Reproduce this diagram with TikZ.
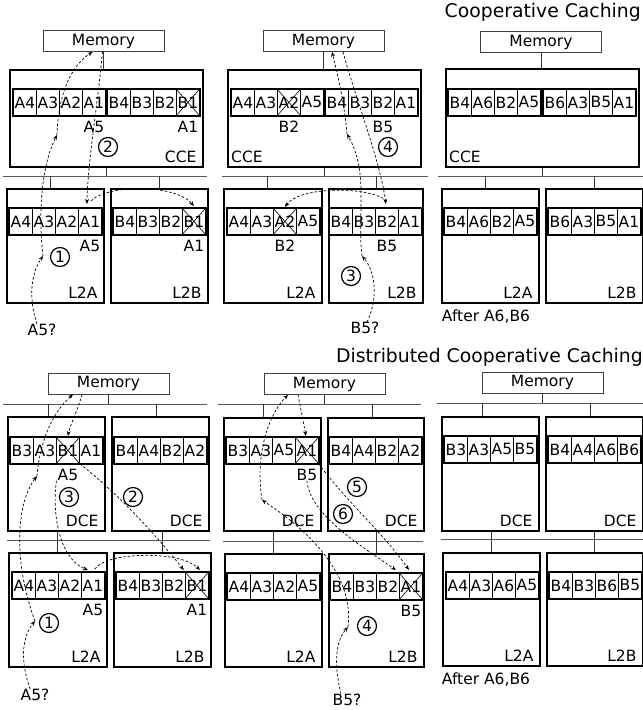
\documentclass[tikz,border=0pt]{standalone}
\usepackage{fontspec}
\setmainfont{DejaVu Sans}
\usetikzlibrary{arrows.meta, calc}
\newcommand{\midfont}{\fontsize{15.5}{18}\selectfont}
\newcommand{\bigfont}{\fontsize{18.8}{22}\selectfont}
% one cache row: name, left, top, blocks
\newcommand{\cacherow}[4]{%
  \foreach \blk [count=\i] in {#4}
    \node[cell, anchor=north west] (#1-\i) at ({#2+(\i-1)*23},#3) {\blk};
  \draw[rowframe] (#1-1.north west) rectangle (#1-4.south east);
}
\newcommand{\evict}[1]{%
  \draw[xline] (#1.north west) -- (#1.south east) (#1.north east) -- (#1.south west);
}

\begin{document}
\begin{tikzpicture}[x=1pt, y=-1pt, font=\midfont,
    pbox/.style={draw, line width=1.6pt, anchor=north west, inner sep=0},
    membox/.style={draw=black!75, line width=0.8pt, minimum width=121pt, minimum height=21pt, inner sep=0},
    cell/.style={draw, line width=0.8pt, minimum width=23pt, minimum height=26pt, inner sep=0},
    rowframe/.style={line width=1.5pt},
    xline/.style={line width=0.6pt},
    bus/.style={black!65, line width=0.9pt},
    link/.style={black!80, line width=0.8pt},
    flow/.style={dash pattern=on 2.5pt off 2pt, line width=0.7pt, -{Stealth[length=5pt, width=4pt]}},
    numc/.style={circle, draw, line width=1.2pt, minimum size=19pt, inner sep=0},
    sub/.style={anchor=north, inner sep=0, yshift=-5pt},
    tagR/.style={anchor=south east, inner xsep=7pt, inner ysep=5pt},
    tagL/.style={anchor=south west, inner xsep=4pt, inner ysep=5pt},
    txt/.style={inner sep=0},
    title/.style={anchor=east, inner sep=0, font=\bigfont}]
  \useasboundingbox (0,0) rectangle (643,710);
  \fill[white] (0,0) rectangle (643,710);

  \node[title] (ttl1) at (641,12) {Cooperative Caching};
  \node[title] (ttl2) at (643,357) {Distributed Cooperative Caching};

  % Cooperative caching, panel 1
  \node[membox] (t1mem) at (103.5,41) {Memory};
  \node[pbox, minimum width=193pt, minimum height=97pt] (t1cce) at (9,69) {};
  \node[pbox, minimum width=97pt, minimum height=114pt] (t1l2a) at (6,188) {};
  \node[pbox, minimum width=97pt, minimum height=114pt] (t1l2b) at (110,188) {};
  \coordinate (t1busL) at (3,176);
  \coordinate (t1busR) at (207,176);
  \draw[bus] (t1busL) -- (t1busR);
  \draw[link] (t1mem.south) -- (t1mem.south |- t1cce.north);
  \draw[link] (t1cce.south) -- (t1cce.south |- t1busL);
  \draw[link] ([xshift=-5pt]t1l2a.north) -- ++(0,-12);
  \draw[link] (t1l2b.north) -- ++(0,-12);
  \cacherow{t1ca}{13}{89}{A4,A3,A2,A1}
  \cacherow{t1cb}{107}{89}{B4,B3,B2,B1}
  \cacherow{t1la}{9}{208}{A4,A3,A2,A1}
  \cacherow{t1lb}{113}{208}{B4,B3,B2,B1}
  \evict{t1cb-4}
  \evict{t1lb-4}
  \node[sub] (t1s1) at (t1ca-4.south) {A5};
  \node[sub] (t1s2) at (t1cb-4.south) {A1};
  \node[sub] (t1s3) at (t1la-4.south) {A5};
  \node[sub] (t1s4) at (t1lb-4.south) {A1};
  \node[tagR] (t1tc) at (t1cce.south east) {CCE};
  \node[tagR] (t1ta) at (t1l2a.south east) {L2A};
  \node[tagR] (t1tb) at (t1l2b.south east) {L2B};
  \node[txt] (t1ask) at (42,330) {A5?};
  \node[numc] (t1n1) at (60,257) {1};
  \node[numc] (t1n2) at (108,147) {2};
  \coordinate (t1w1) at (43,256);
  \coordinate (t1w2) at (57,135);
  \draw[flow] ([xshift=-5pt]t1ask.north) .. controls (29,300) and (30,275) .. (t1w1);
  \draw[flow] (t1w1) .. controls (37,205) and (44,160) .. (t1w2);
  \draw[flow] (t1w2) .. controls (58,100) and (68,68) .. ([xshift=-11pt]t1mem.south);
  \draw[flow] ([xshift=-1pt]t1mem.south) .. controls (97,110) and (88,160) .. ([xshift=-3pt,yshift=4pt]t1la-4.north);
  \draw[flow] ([xshift=1pt,yshift=7pt]t1la-4.north) .. controls (108,184) and (175,184) .. ([yshift=2pt]t1lb-4.north);

  % Cooperative caching, panel 2
  \node[membox] (t2mem) at (323.5,41) {Memory};
  \node[pbox, minimum width=193pt, minimum height=97pt] (t2cce) at (227,69) {};
  \node[pbox, minimum width=98pt, minimum height=114pt] (t2l2a) at (223,188) {};
  \node[pbox, minimum width=94pt, minimum height=114pt] (t2l2b) at (328,188) {};
  \coordinate (t2busL) at (222,176);
  \coordinate (t2busR) at (428,176);
  \draw[bus] (t2busL) -- (t2busR);
  \draw[link] (t2mem.south) -- (t2mem.south |- t2cce.north);
  \draw[link] (t2cce.south) -- (t2cce.south |- t2busL);
  \draw[link] ([xshift=-5pt]t2l2a.north) -- ++(0,-12);
  \draw[link] ([xshift=1pt]t2l2b.north) -- ++(0,-12);
  \cacherow{t2ca}{231}{89}{A4,A3,A2,A5}
  \cacherow{t2cb}{325}{89}{B4,B3,B2,A1}
  \cacherow{t2la}{227}{208}{A4,A3,A2,A5}
  \cacherow{t2lb}{329}{208}{B4,B3,B2,A1}
  \evict{t2ca-3}
  \evict{t2la-3}
  \node[sub] (t2s1) at (t2ca-3.south) {B2};
  \node[sub] (t2s2) at (t2cb-3.south) {B5};
  \node[sub] (t2s3) at (t2la-3.south) {B2};
  \node[sub] (t2s4) at (t2lb-3.south) {B5};
  \node[tagL] (t2tc) at (t2cce.south west) {CCE};
  \node[tagR] (t2ta) at (t2l2a.south east) {L2A};
  \node[tagR] (t2tb) at (t2l2b.south east) {L2B};
  \node[txt] (t2ask) at (365,328) {B5?};
  \node[numc] (t2n3) at (351,276) {3};
  \node[numc] (t2n4) at (388,147) {4};
  \coordinate (t2w1) at (362,256);
  \coordinate (t2w2) at (347,134);
  \draw[flow] ([xshift=2pt]t2ask.north) .. controls (378,300) and (376,272) .. (t2w1);
  \draw[flow] (t2w1) .. controls (357,215) and (369,172) .. (t2w2);
  \draw[flow] (t2w2) .. controls (344,100) and (337,72) .. ([xshift=8.5pt]t2mem.south);
  \draw[flow] ([xshift=19.5pt]t2mem.south) .. controls (356,100) and (380,160) .. ([xshift=-1pt,yshift=4pt]t2lb-3.north);
  \draw[flow] ([yshift=7pt]t2lb-3.north) .. controls (370,186) and (300,186) .. ([yshift=1pt]t2la-3.north);

  % Cooperative caching, panel 3
  \node[membox] (t3mem) at (541,42) {Memory};
  \node[pbox, minimum width=193pt, minimum height=98pt] (t3cce) at (445,68) {};
  \node[pbox, minimum width=97pt, minimum height=114pt] (t3l2a) at (441,188) {};
  \node[pbox, minimum width=97pt, minimum height=114pt] (t3l2b) at (545,188) {};
  \coordinate (t3busL) at (438,176);
  \coordinate (t3busR) at (643,176);
  \draw[bus] (t3busL) -- (t3busR);
  \draw[link] (t3mem.south) -- (t3mem.south |- t3cce.north);
  \draw[link] (t3cce.south) -- (t3cce.south |- t3busL);
  \draw[link] ([xshift=-4.5pt]t3l2a.north) -- ++(0,-12);
  \draw[link] (t3l2b.north) -- ++(0,-12);
  \cacherow{t3ca}{448}{89}{B4,A6,B2,A5}
  \cacherow{t3cb}{543}{89}{B6,A3,B5,A1}
  \cacherow{t3la}{444}{208}{B4,A6,B2,A5}
  \cacherow{t3lb}{548}{208}{B6,A3,B5,A1}
  \node[tagL] (t3tc) at (t3cce.south west) {CCE};
  \node[tagR] (t3ta) at (t3l2a.south east) {L2A};
  \node[tagR] (t3tb) at (t3l2b.south east) {L2B};
  \node[txt] (t3after) at (486,317) {After A6,B6};

  % Distributed cooperative caching, panel 1
  \node[membox] (b1mem) at (108.5,383.5) {Memory};
  \node[pbox, minimum width=97pt, minimum height=114pt] (b1dcea) at (7,416) {};
  \node[pbox, minimum width=97pt, minimum height=114pt] (b1dceb) at (111,416) {};
  \node[pbox, minimum width=98pt, minimum height=114pt] (b1l2a) at (8,552) {};
  \node[pbox, minimum width=97pt, minimum height=114pt] (b1l2b) at (113,552) {};
  \coordinate (b1busU) at (3,404);
  \coordinate (b1busUR) at (207,404);
  \coordinate (b1busD) at (7,540);
  \coordinate (b1busDR) at (210,540);
  \draw[bus] (b1busU) -- (b1busUR);
  \draw[bus] (b1busD) -- (b1busDR);
  \draw[link] (b1mem.south) -- (b1mem.south |- b1busU);
  \draw[link] ([xshift=-7.5pt]b1dcea.north) -- ++(0,-12);
  \draw[link] ([xshift=-3.5pt]b1dceb.north) -- ++(0,-12);
  \draw[link] (b1l2a.north) -- (b1l2a.north |- b1dcea.south);
  \draw[link] (b1l2b.north) -- (b1l2b.north |- b1dceb.south);
  \cacherow{b1da}{10}{437}{B3,A3,B1,A1}
  \cacherow{b1db}{114}{437}{B4,A4,B2,A2}
  \cacherow{b1la}{12}{572}{A4,A3,A2,A1}
  \cacherow{b1lb}{116}{572}{B4,B3,B2,B1}
  \evict{b1da-3}
  \evict{b1lb-4}
  \node[sub] (b1s1) at (b1da-3.south) {A5};
  \node[sub] (b1s2) at (b1la-4.south) {A5};
  \node[sub] (b1s3) at (b1lb-4.south) {A1};
  \node[tagR] (b1tc) at (b1dcea.south east) {DCE};
  \node[tagR] (b1td) at (b1dceb.south east) {DCE};
  \node[tagR] (b1ta) at (b1l2a.south east) {L2A};
  \node[tagR] (b1tb) at (b1l2b.south east) {L2B};
  \node[txt] (b1ask) at (35,695) {A5?};
  \node[numc] (b1n1) at (49,623) {1};
  \node[numc] (b1n2) at (133,497) {2};
  \node[numc] (b1n3) at (69,497) {3};
  \coordinate (b1w1) at (35,621);
  \coordinate (b1w2) at (37,476);
  \draw[flow] ([xshift=-5pt]b1ask.north) .. controls (20,660) and (22,637) .. (b1w1);
  \draw[flow] (b1w1) .. controls (14,565) and (15,505) .. (b1w2);
  \draw[flow] (b1w2) .. controls (40,440) and (53,412) .. ([xshift=-35.5pt]b1mem.south);
  \draw[flow] ([xshift=-26.5pt]b1mem.south) .. controls (78,410) and (70,425) .. ([yshift=1pt]b1da-3.north);
  \draw[flow] ([xshift=-1pt]b1s1.south west) .. controls (52,510) and (58,558) .. ([xshift=-5pt,yshift=2pt]b1la-4.north);
  \draw[flow] (b1da-3.south east) .. controls (120,495) and (160,540) .. ([xshift=-2pt,yshift=2pt]b1lb-3.north east);
  \draw[flow] ([xshift=2pt,yshift=3pt]b1la-4.north) .. controls (105,552) and (180,550) .. ([xshift=3pt,yshift=2pt]b1lb-4.north);

  % Distributed cooperative caching, panel 2
  \node[membox] (b2mem) at (324.5,384) {Memory};
  \node[pbox, minimum width=97pt, minimum height=113pt] (b2dcea) at (223,417) {};
  \node[pbox, minimum width=96pt, minimum height=113pt] (b2dceb) at (327,417) {};
  \node[pbox, minimum width=97pt, minimum height=113pt] (b2l2a) at (224,553) {};
  \node[pbox, minimum width=95pt, minimum height=113pt] (b2l2b) at (328,553) {};
  \coordinate (b2busU) at (218,404);
  \coordinate (b2busUR) at (421,404);
  \coordinate (b2busD) at (223,541);
  \coordinate (b2busDR) at (423,541);
  \draw[bus] (b2busU) -- (b2busUR);
  \draw[bus] (b2busD) -- (b2busDR);
  \draw[link] (b2mem.south) -- (b2mem.south |- b2busU);
  \draw[link] ([xshift=-8.5pt]b2dcea.north) -- ++(0,-13);
  \draw[link] ([xshift=-3pt]b2dceb.north) -- ++(0,-13);
  \draw[link] (b2l2a.north) -- (b2l2a.north |- b2dcea.south);
  \draw[link] (b2l2b.north) -- (b2l2b.north |- b2dceb.south);
  \cacherow{b2da}{226}{437}{B3,A3,A5,A1}
  \cacherow{b2db}{329}{437}{B4,A4,B2,A2}
  \cacherow{b2la}{227}{573}{A4,A3,A2,A5}
  \cacherow{b2lb}{330}{573}{B4,B3,B2,A1}
  \evict{b2da-4}
  \evict{b2lb-4}
  \node[sub] (b2s1) at (b2da-4.south) {B5};
  \node[sub] (b2s2) at (b2lb-4.south) {B5};
  \node[tagR] (b2tc) at (b2dcea.south east) {DCE};
  \node[tagR] (b2td) at (b2dceb.south east) {DCE};
  \node[tagR] (b2ta) at (b2l2a.south east) {L2A};
  \node[tagR] (b2tb) at (b2l2b.south east) {L2B};
  \node[txt] (b2ask) at (347,700) {B5?};
  \node[numc] (b2n4) at (367,626) {4};
  \node[numc] (b2n5) at (357,487) {5};
  \node[numc] (b2n6) at (343,514) {6};
  \coordinate (b2w1) at (348,627);
  \coordinate (b2w2) at (262,500);
  \draw[flow] ([xshift=-6pt]b2ask.north) .. controls (334,665) and (335,642) .. (b2w1);
  \draw[flow] (b2w1) .. controls (355,570) and (300,525) .. (b2w2);
  \draw[flow] (b2w2) .. controls (255,455) and (268,415) .. ([xshift=-36.5pt]b2mem.south);
  \draw[flow] ([xshift=-26.5pt]b2mem.south) .. controls (301,410) and (304,425) .. ([xshift=-1pt,yshift=1pt]b2da-4.north);
  \draw[flow] (b2da-4.south east) .. controls (345,500) and (385,535) .. ([xshift=-2pt,yshift=3pt]b2lb-4.north);
  \draw[flow] (b2s1.south) .. controls (310,515) and (360,545) .. ([xshift=8pt,yshift=3pt]b2lb-3.north);

  % Distributed cooperative caching, panel 3
  \node[membox] (b3mem) at (542.5,382.5) {Memory};
  \node[pbox, minimum width=97pt, minimum height=114pt] (b3dcea) at (441,416) {};
  \node[pbox, minimum width=97pt, minimum height=114pt] (b3dceb) at (545,416) {};
  \node[pbox, minimum width=97pt, minimum height=113pt] (b3l2a) at (442,552) {};
  \node[pbox, minimum width=96pt, minimum height=113pt] (b3l2b) at (546,552) {};
  \coordinate (b3busU) at (437,403);
  \coordinate (b3busUR) at (643,403);
  \coordinate (b3busD) at (441,539);
  \coordinate (b3busDR) at (643,539);
  \draw[bus] (b3busU) -- (b3busUR);
  \draw[bus] (b3busD) -- (b3busDR);
  \draw[link] (b3mem.south) -- (b3mem.south |- b3busU);
  \draw[link] ([xshift=-7.5pt]b3dcea.north) -- ++(0,-13);
  \draw[link] ([xshift=-3.5pt]b3dceb.north) -- ++(0,-13);
  \draw[link] (b3l2a.north) -- (b3l2a.north |- b3dcea.south);
  \draw[link] (b3l2b.north) -- (b3l2b.north |- b3dceb.south);
  \cacherow{b3da}{444}{436}{B3,A3,A5,B5}
  \cacherow{b3db}{548}{436}{B4,A4,A6,B6}
  \cacherow{b3la}{446}{572}{A4,A3,A6,A5}
  \cacherow{b3lb}{549}{572}{B4,B3,B6,B5}
  \node[tagR] (b3tc) at (b3dcea.south east) {DCE};
  \node[tagR] (b3td) at (b3dceb.south east) {DCE};
  \node[tagR] (b3ta) at (b3l2a.south east) {L2A};
  \node[tagR] (b3tb) at (b3l2b.south east) {L2B};
  \node[txt] (b3after) at (486,680) {After A6,B6};
\end{tikzpicture}
\end{document}
